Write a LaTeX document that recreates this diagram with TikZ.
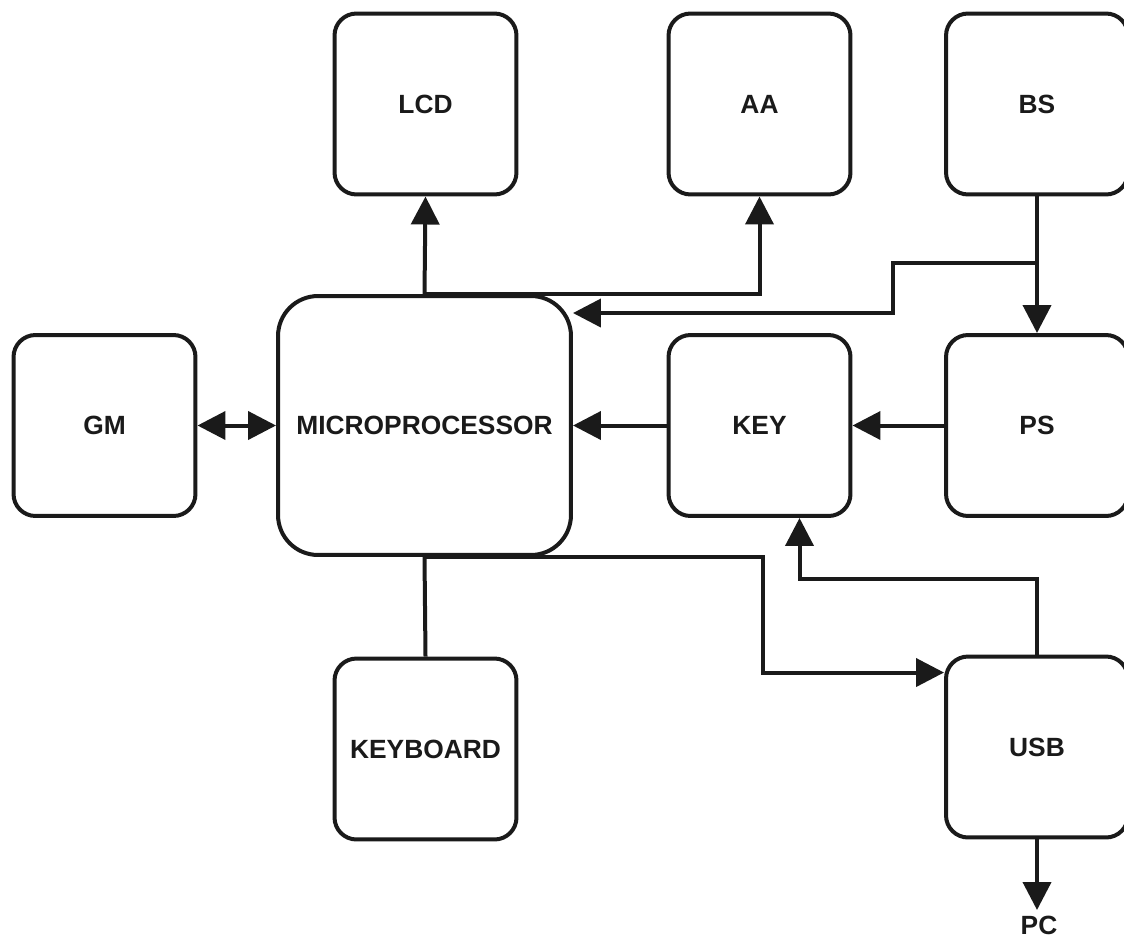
\documentclass[tikz,border=0pt]{standalone}
\usepackage{fontspec}
\setmainfont{Liberation Sans}
\usepackage{tikz}
\usetikzlibrary{arrows.meta,positioning,calc}
\definecolor{ink}{HTML}{1A1A1A}
\tikzset{
  unitbox/.style={
    rectangle, draw=ink, fill=white, line width=0.08cm,
    rounded corners=0.44cm,
    minimum width=3.64cm, minimum height=3.62cm,
    font=\fontsize{15}{18}\selectfont\bfseries, text=ink,
    inner sep=0pt
  },
  cpubox/.style={unitbox, rounded corners=0.8cm,
    minimum width=5.86cm, minimum height=5.18cm},
  sigarrow/.style={
    -{Triangle[length=0.56cm, width=0.56cm]}, line width=0.08cm, draw=ink
  },
  sigline/.style={line width=0.08cm, draw=ink},
  pclabel/.style={font=\fontsize{15}{18}\selectfont\bfseries, text=ink,
    inner sep=0.12cm},
}
\begin{document}
\begin{tikzpicture}[x=0.02cm, y=-0.02cm]
  \useasboundingbox (0,0) rectangle (1124,950);
  \node[unitbox] (lcd) at (425.5,104) {LCD};
  \node[unitbox] (aa)  at (759.5,104) {AA};
  \node[unitbox] (bs)  at (1037,104)  {BS};
  \node[unitbox] (gm)  at (104.5,425.5) {GM};
  \node[cpubox]  (cpu) at (424.5,425.5) {MICROPROCESSOR};
  \node[unitbox] (key) at (759.5,425.5) {KEY};
  \node[unitbox] (ps)  at (1037,425.5)  {PS};
  \node[unitbox] (kbd) at (425.5,749)   {KEYBOARD};
  \node[unitbox] (usb) at (1037,747)    {USB};
  \node[pclabel, anchor=north] (pc) at (1039,910) {PC};
  \coordinate (tap) at ($(bs.south)!0.49!(ps.north)$);
  \coordinate (jog) at (893,0);
  \draw[sigarrow] (cpu.north) -- (lcd.south);
  \draw[sigarrow] (cpu.north) -- (cpu.north -| aa) -- (aa.south);
  \draw[sigarrow] (bs) -- (ps);
  \draw[sigarrow] (tap) -- (tap -| jog) |- ($(cpu.north east)+(0,19)$);
  \draw[sigarrow] (ps) -- (key);
  \draw[sigarrow] (key) -- (cpu);
  \draw[sigarrow, {Triangle[length=0.56cm, width=0.56cm]}-{Triangle[length=0.56cm, width=0.56cm]}] (gm) -- (cpu);
  \draw[sigline] (cpu.south) -- (kbd.north);
  \draw[sigarrow] (cpu.south) -- (cpu.south -| 763,0) |- ($(usb.north west)+(0,18)$);
  \draw[sigarrow] (usb.north) -- (usb.north |- 0,579) -| ($(key.south)+(40,0)$);
  \draw[sigarrow] (usb.south) -- (pc.north -| usb.south);
\end{tikzpicture}
\end{document}
